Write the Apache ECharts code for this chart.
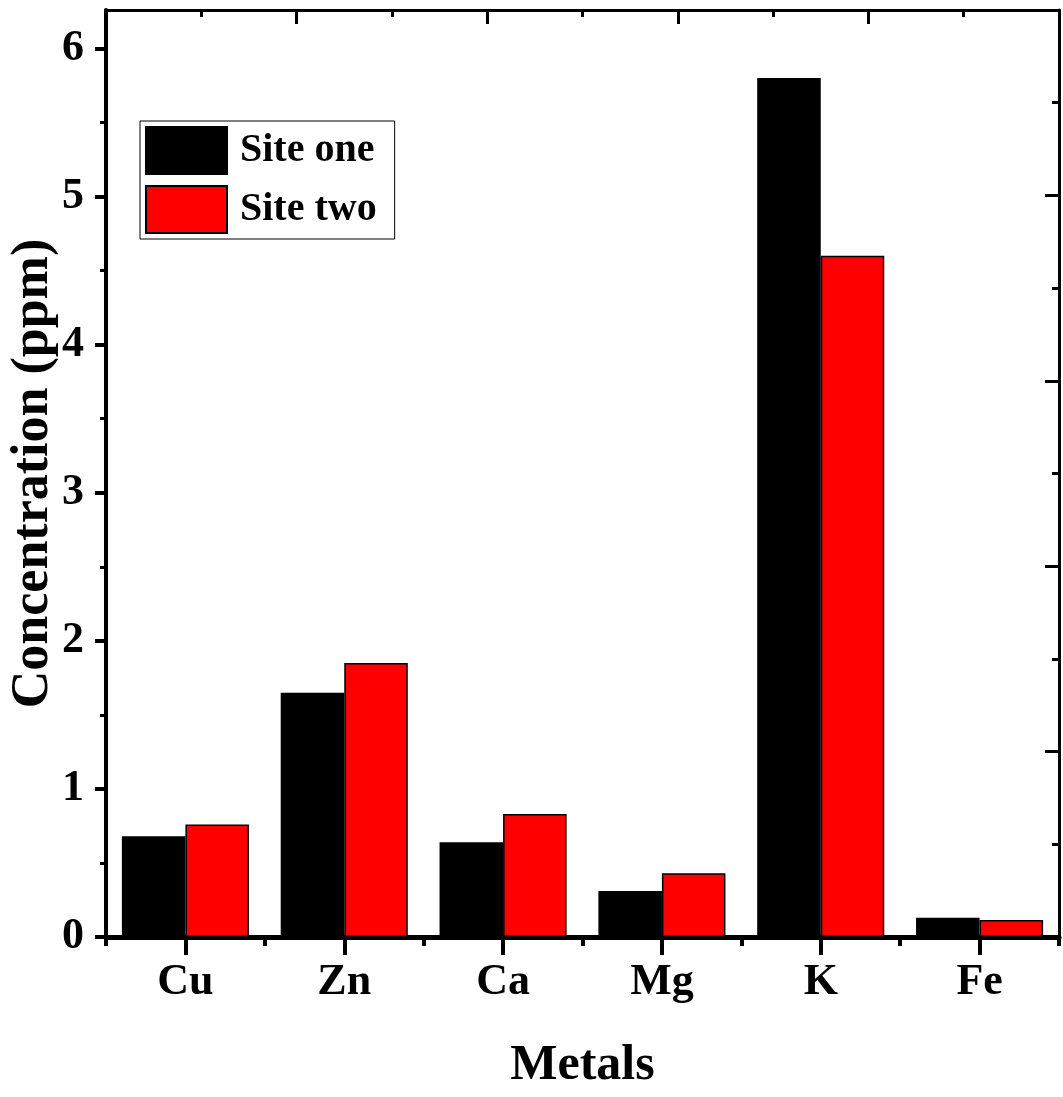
<!DOCTYPE html>
<html>
<head>
<meta charset="utf-8">
<title>Metal concentration</title>
<script src="https://cdn.jsdelivr.net/npm/echarts@6/dist/echarts.min.js"></script>
<style>
	* { margin: 0; padding: 0; }
	html, body { width: 100%; height: 100%; background: #fff; }
	#main { width: 1063px; height: 1097px; }
</style>
</head>
<body>
<div id="main"></div>
<script type="text/javascript">
	// data
	var metals = ['Cu', 'Zn', 'Ca', 'Mg', 'K', 'Fe'];
	var siteOne = [0.68, 1.65, 0.64, 0.31, 5.80, 0.13];
	var siteTwo = [0.76, 1.85, 0.83, 0.43, 4.60, 0.115];
	var yMajor = [0, 1, 2, 3, 4, 5, 6];
	var yMinor = [0.5, 1.5, 2.5, 3.5, 4.5, 5.5];

	var FONT = '"Liberation Serif", "Times New Roman", serif';
	var myChart = echarts.init(document.getElementById('main'));

	var option = {
		animation: false,
		backgroundColor: '#fff',
		grid: { left: 106, right: 4, top: 10, bottom: 160, containLabel: false, outerBoundsMode: 'none' },
		legend: {
			orient: 'vertical',
			left: 140, top: 121,
			itemWidth: 81, itemHeight: 47, itemGap: 10,
			padding: [5, 18, 5, 5],
			borderColor: '#000', borderWidth: 1,
			icon: 'rect',
			textStyle: { fontFamily: FONT, fontWeight: 'bold', fontSize: 40, color: '#000', padding: [0, 0, 0, 8] },
			data: ['Site one', 'Site two']
		},
		xAxis: [
			{
				type: 'category', position: 'bottom', data: metals,
				axisLine: { onZero: false, lineStyle: { color: '#000', width: 5 } },
				axisTick: { show: true, alignWithLabel: true, length: 18, lineStyle: { color: '#000', width: 4 } },
				axisLabel: { fontFamily: FONT, fontWeight: 'bold', fontSize: 44, color: '#000', margin: 24 },
				name: 'Metals', nameLocation: 'middle', nameGap: 104, nameMoveOverlap: false,
				nameTextStyle: { fontFamily: FONT, fontWeight: 'bold', fontSize: 50, color: '#000' }
			},
			{
				// short ticks on the category boundaries
				type: 'category', position: 'bottom', data: metals,
				axisLine: { show: false, onZero: false },
				axisTick: { show: true, length: 9, lineStyle: { color: '#000', width: 4 } },
				axisLabel: { show: false }
			},
			{
				// top frame
				type: 'value', position: 'top', min: 0, max: 5, interval: 1,
				axisLine: { show: true, onZero: false, lineStyle: { color: '#000', width: 3 } },
				axisTick: { show: true, inside: true, length: 14, lineStyle: { color: '#000', width: 3 } },
				minorTick: { show: true, splitNumber: 2, length: 7, lineStyle: { color: '#000', width: 3 } },
				axisLabel: { show: false },
				splitLine: { show: false }
			}
		],
		yAxis: [
			{
				type: 'value', position: 'left', min: 0, max: 6.26, interval: 1,
				axisLine: { show: true, onZero: false, lineStyle: { color: '#000', width: 4 } },
				axisTick: { show: true, customValues: yMajor, length: 11, lineStyle: { color: '#000', width: 4 } },
				axisLabel: { customValues: yMajor, fontFamily: FONT, fontWeight: 'bold', fontSize: 44, color: '#000', margin: 22 },
				splitLine: { show: false },
				name: 'Concentration (ppm)', nameLocation: 'middle', nameGap: 46, nameRotate: 90, nameMoveOverlap: false,
				nameTextStyle: { fontFamily: FONT, fontWeight: 'bold', fontSize: 52, color: '#000' }
			},
			{
				// minor ticks on the left axis
				type: 'value', position: 'left', min: 0, max: 6.26,
				axisLine: { show: false, onZero: false },
				axisTick: { show: true, customValues: yMinor, length: 6, lineStyle: { color: '#000', width: 3 } },
				axisLabel: { show: false },
				splitLine: { show: false }
			},
			{
				// right frame
				type: 'value', position: 'right', min: 0, max: 5, interval: 1,
				axisLine: { show: true, onZero: false, lineStyle: { color: '#000', width: 3 } },
				axisTick: { show: true, inside: true, length: 14, lineStyle: { color: '#000', width: 3 } },
				minorTick: { show: true, splitNumber: 2, length: 7, lineStyle: { color: '#000', width: 3 } },
				axisLabel: { show: false },
				splitLine: { show: false }
			}
		],
		series: [
			{
				name: 'Site one', type: 'bar', xAxisIndex: 0, yAxisIndex: 0,
				barGap: '0%', barCategoryGap: '20%',
				itemStyle: { color: '#000', borderColor: '#000', borderWidth: 1.5 },
				data: siteOne
			},
			{
				name: 'Site two', type: 'bar', xAxisIndex: 0, yAxisIndex: 0,
				barGap: '0%', barCategoryGap: '20%',
				itemStyle: { color: '#ff0000', borderColor: '#000', borderWidth: 1.5 },
				data: siteTwo
			}
		]
	};

	myChart.setOption(option);
</script>
</body>
</html>
